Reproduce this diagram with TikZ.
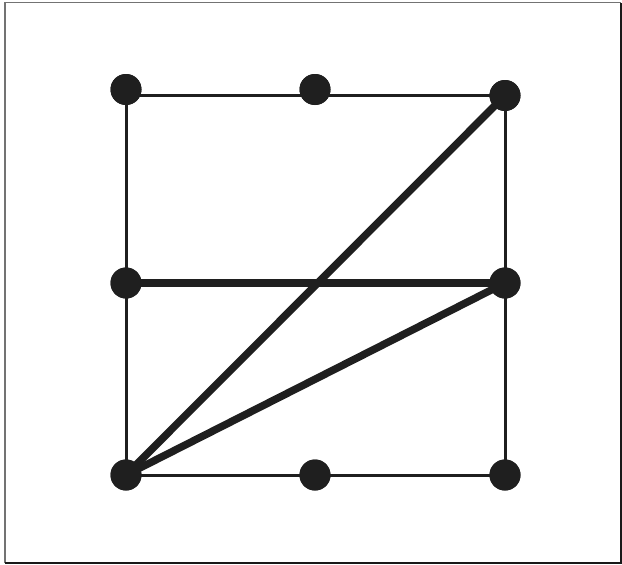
\documentclass[tikz,border=0pt]{standalone}
\begin{document}
\begin{tikzpicture}[x=1pt,y=-1pt,
    dot/.style={circle,fill=black!88,inner sep=0pt,minimum size=31pt},
    thin/.style={line width=3pt,black!88},
    thick/.style={line width=7.5pt,black!88}]
    \useasboundingbox (0,0) rectangle (622,565);
    \draw[line width=1.5pt,black!55] (5,563) -- (5,2.5) -- (621,2.5);
    \draw[line width=2pt,black!90] (5,563) -- (621,563) -- (621,2.5);
    % corners of the square
    \coordinate (c1) at (126,95.5);
    \coordinate (c2) at (505,95.5);
    % dots
    \node[dot] (tl) at (126,89.5) {};
    \node[dot] (tm) at (315,89.5) {};
    \node[dot] (tr) at (505,95.5) {};
    \node[dot] (ml) at (126,283) {};
    \node[dot] (mr) at (505,283) {};
    \node[dot] (bl) at (126,475) {};
    \node[dot] (bm) at (315,475) {};
    \node[dot] (br) at (505,475) {};
    \draw[thin] (c1) -- (c2) -- (br.center) -- (bl.center) -- cycle;
    \draw[thick] (ml.center) -- (mr.center);
    \draw[thick] (bl.center) -- (tr.center);
    \draw[thick] (bl.center) -- (mr.center);
    % redraw dots on top
    \foreach \n in {tl,tm,tr,ml,mr,bl,bm,br}
        \fill[black!88] (\n) circle (15.5pt);
\end{tikzpicture}
\end{document}
